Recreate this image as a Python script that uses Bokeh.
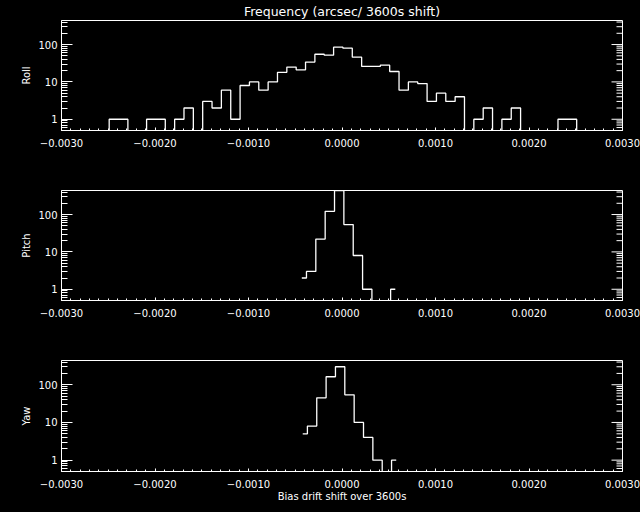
import numpy as np
from bokeh.plotting import figure
from bokeh.layouts import column
from bokeh.models import (Range1d, SingleIntervalTicker, FixedTicker,
                          PrintfTickFormatter, CustomJSTickFormatter)
from bokeh.embed import file_html
from bokeh.resources import INLINE

# ---------------- data (histogram counts) ----------------
bin_width = 0.0001

roll_first_center = -0.00254
roll_counts = [0, 1, 1, 0, 0, 1, 1, 0, 1, 2, 0, 3, 2, 6, 1, 8, 10, 6, 10, 18,
               25, 21, 34, 55, 52, 85, 80, 46, 26, 26, 28, 19, 6, 10, 9, 3,
               5, 3, 4, 0, 1, 2, 0, 1, 2, 0, 0, 0, 0, 1, 1, 0]

pitch_first_center = -0.00043
pitch_counts = [2, 3, 22, 122, 440, 54, 8, 1, 0, 0, 1]

yaw_first_center = -0.00042
yaw_counts = [5, 8, 45, 163, 300, 54, 10, 4, 1, 0, 1]

panel_names = ["Roll", "Pitch", "Yaw"]
title_text = "Frequency (arcsec/ 3600s shift)"
xlabel_text = "Bias drift shift over 3600s"

x_min, x_max = -0.003, 0.003
x_major_interval = 0.001
x_minor_interval = 0.0001
y_min = 0.5
y_max = max(max(roll_counts), max(pitch_counts), max(yaw_counts))
y_major_ticks = [1, 10, 100]
y_minor_ticks = [0.6, 0.7, 0.8, 0.9, 2, 3, 4, 5, 6, 7, 8, 9,
                 20, 30, 40, 50, 60, 70, 80, 90, 200, 300, 400]

FONT = "DejaVu Sans"
WHITE = "white"

FIG_W = 640
BORDER_L, BORDER_R = 61, 18
FRAME_W = FIG_W - BORDER_L - BORDER_R
X_TICK_MAJOR, X_TICK_MINOR = 3, 2
Y_TICK_MAJOR, Y_TICK_MINOR = 11, 6


def style_axis(ax, tick_major, tick_minor):
    ax.axis_line_color = WHITE
    ax.major_tick_line_color = WHITE
    ax.minor_tick_line_color = WHITE
    ax.major_tick_in = tick_major
    ax.major_tick_out = 0
    ax.minor_tick_in = tick_minor
    ax.minor_tick_out = 0
    ax.major_label_text_color = WHITE
    ax.major_label_text_font = FONT
    ax.major_label_text_font_size = "10px"
    ax.axis_label_text_color = WHITE
    ax.axis_label_text_font = FONT
    ax.axis_label_text_font_style = "normal"
    ax.axis_label_text_font_size = "10px"


def make_panel(name, first_center, counts, height, top, bottom,
               title=None, xlabel=None):
    frame_h = height - top - bottom
    p = figure(width=FIG_W, height=height,
               x_range=Range1d(x_min, x_max), y_range=Range1d(y_min, y_max),
               y_axis_type="log", title=title,
               output_backend="svg", toolbar_location=None,
               min_border_left=BORDER_L, min_border_right=BORDER_R,
               min_border_top=top, min_border_bottom=bottom,
               background_fill_color="black", border_fill_color="black",
               outline_line_color=WHITE)
    p.grid.visible = False
    p.extra_x_ranges = {"fx": Range1d(0, 1)}
    p.extra_y_ranges = {"fy": Range1d(0, 1)}

    xa = p.xaxis[0]
    xa.ticker = SingleIntervalTicker(interval=x_major_interval, num_minor_ticks=10)
    xa.formatter = CustomJSTickFormatter(
        code="return (tick < -1e-12 ? '\u2212' : '') + Math.abs(tick).toFixed(4);")
    style_axis(xa, X_TICK_MAJOR, X_TICK_MINOR)
    xa.major_label_standoff = 8
    if xlabel:
        xa.axis_label = xlabel
        xa.axis_label_standoff = 0

    ya = p.yaxis[0]
    ya.ticker = FixedTicker(ticks=y_major_ticks, minor_ticks=y_minor_ticks)
    ya.formatter = PrintfTickFormatter(format="%d")
    style_axis(ya, Y_TICK_MAJOR, Y_TICK_MINOR)
    ya.major_label_standoff = 4
    ya.axis_label = name
    ya.axis_label_standoff = 3

    # mirrored ticks on the top and right edges of the box (IDL style)
    xt = np.round(np.arange(x_min, x_max + x_minor_interval / 2, x_minor_interval), 6)
    is_major = np.isclose(np.round(xt / x_major_interval) * x_major_interval, xt, atol=1e-9)
    xlen = np.where(is_major, X_TICK_MAJOR, X_TICK_MINOR) / frame_h
    p.segment(x0=xt, x1=xt, y0=1 - xlen, y1=np.ones_like(xt), y_range_name="fy",
              line_color=WHITE, line_width=1)
    yt = np.array(y_major_ticks + y_minor_ticks, dtype=float)
    ylen = np.array([Y_TICK_MAJOR] * len(y_major_ticks) +
                    [Y_TICK_MINOR] * len(y_minor_ticks)) / FRAME_W
    p.segment(x0=1 - ylen, x1=np.ones_like(yt), y0=yt, y1=yt, x_range_name="fx",
              line_color=WHITE, line_width=1)

    if title:
        p.title.align = "center"
        p.title.text_color = WHITE
        p.title.text_font = FONT
        p.title.text_font_size = "12.5px"
        p.title.text_font_style = "normal"
        p.title.standoff = 3
        p.title.offset = 0

    n = len(counts)
    centers = first_center + np.arange(n) * bin_width
    c = np.asarray(counts, dtype=float)
    shown = np.where(c > 0, c, 0.1)  # empty bins fall below the axis floor
    p.step(x=centers, y=shown, mode="center", line_color=WHITE, line_width=1.3)
    return p


p1 = make_panel(panel_names[0], roll_first_center, roll_counts, 165, 20, 35,
                title=title_text)
p2 = make_panel(panel_names[1], pitch_first_center, pitch_counts, 170, 25, 35)
p3 = make_panel(panel_names[2], yaw_first_center, yaw_counts, 177, 25, 41,
                xlabel=xlabel_text)

p = column(p1, p2, p3, spacing=0, styles={"background": "black"})

open("out.html", "w").write(file_html(p, INLINE))
